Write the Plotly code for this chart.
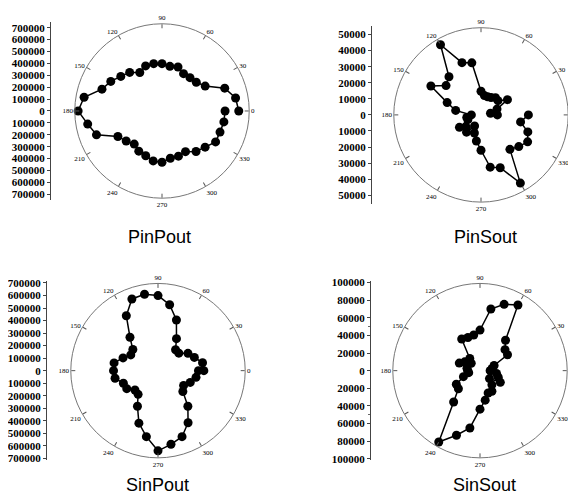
import plotly.graph_objects as go

# The page body has an 8px margin, so the figure is sized to fill the rest of the window
OFF = 8
W, H = 576 - OFF, 504 - OFF

# ---------------- data ----------------
theta_deg = [0, 10, 20, 30, 40, 50, 60, 70, 80, 90, 100, 110, 120, 130, 140, 150, 160, 170,
             180, 190, 200, 210, 220, 230, 240, 250, 260, 270, 280, 290, 300, 310, 320, 330,
             340, 350, 360]

pinpout_r = [645000, 628000, 561000, 419000, 376000, 366000, 362000, 393000, 381000, 398000,
             404000, 403000, 373000, 423000, 452000, 497000, 537000, 665000, 705000, 634000,
             586000, 428000, 393000, 363000, 390000, 400000, 426000, 431000, 403000, 404000,
             395000, 445000, 473000, 520000, 519000, 528000, 530000]

pinsout_r = [10200, 6000, 10600, 19000, 13800, 14000, 12500, 12000, 12200, 14700,
             32900, 34600, 50400, 31000, 28400, 36000, 22400, 16000, 6000, 9000,
             8700, 15500, 12000, 14000, 8000, 12000, 16500, 22000, 33000, 35000,
             49000, 28000, 30700, 33500, 31000, 25000, 29500]

sinpout_r = [366000, 361000, 309000, 276000, 217000, 218000, 295000, 430000, 534000, 599000,
             619000, 609000, 506000, 348000, 262000, 251000, 297000, 356000, 355000, 348000,
             294000, 288000, 240000, 247000, 328000, 446000, 535000, 640000, 597000, 561000,
             480000, 371000, 259000, 236000, 274000, 308000, 323000]

sinsout_r = [12000, 14000, 17000, 36000, 37000, 45000, 86000, 80000, 71000, 46000,
             41000, 40000, 41500, 18000, 13000, 20000, 25000, 15000, 14000, 13000,
             20000, 31000, 32000, 46500, 93500, 78000, 66000, 43700, 34000, 27000,
             27000, 21000, 14000, 26600, 22000, 19000, 11500]

titles = ["PinPout", "PinSout", "SinPout", "SinSout"]

pout_ticks = [700000, 600000, 500000, 400000, 300000, 200000, 100000, 0,
              -100000, -200000, -300000, -400000, -500000, -600000, -700000]
pout_labels = ["700000", "600000", "500000", "400000", "300000", "200000", "100000", "0",
               "100000", "200000", "300000", "400000", "500000", "600000", "700000"]
pinsout_ticks = [50000, 40000, 30000, 20000, 10000, 0, -10000, -20000, -30000, -40000, -50000]
pinsout_labels = ["50000", "40000", "30000", "20000", "10000", "0",
                  "10000", "20000", "30000", "40000", "50000"]
sinsout_ticks = [100000, 80000, 60000, 40000, 20000, 0, -20000, -40000, -60000, -80000, -100000]
sinsout_labels = ["100000", "80000", "60000", "40000", "20000", "0",
                  "20000", "40000", "60000", "80000", "100000"]

ang_ticks = [0, 30, 60, 90, 120, 150, 180, 210, 240, 270, 300, 330]
ang_labels = ["0", "30", "60", "90", "120", "150", "180", "210", "240", "270", "300", "330"]

# ---------------- layout geometry (window pixels) ----------------
panels = [
    dict(cx=162, cy=108, L=85.0, lmax=700000, ax=51, tx=159, ty=237,
         r=pinpout_r, tv=pout_ticks, tt=pout_labels),
    dict(cx=481, cy=112, L=82.0, lmax=50000, ax=372, tx=485, ty=237,
         r=pinsout_r, tv=pinsout_ticks, tt=pinsout_labels),
    dict(cx=158, cy=373, L=89.5, lmax=700000, ax=47, tx=157, ty=490,
         r=sinpout_r, tv=pout_ticks, tt=pout_labels),
    dict(cx=480, cy=373, L=90.0, lmax=100000, ax=371, tx=484, ty=490,
         r=sinsout_r, tv=sinsout_ticks, tt=sinsout_labels),
]
RC = 89  # circle radius in px
YA = 91  # half-length of the vertical scale in px


def px(x):
    return (x - OFF) / W


def py(y):
    return 1 - (y - OFF) / H


fig = go.Figure()
layout = dict(width=W, height=H, margin=dict(l=0, r=0, t=0, b=0),
              paper_bgcolor="white", plot_bgcolor="white", showlegend=False,
              annotations=[])

serif = "Liberation Serif"

for i, p in enumerate(panels):
    k = "" if i == 0 else str(i + 1)
    pol = "polar" + k
    fig.add_trace(go.Scatterpolar(
        r=p["r"], theta=theta_deg, mode="lines+markers", subplot=pol,
        line=dict(color="black", width=1.5),
        marker=dict(color="black", size=9),
        cliponaxis=False, hoverinfo="skip"))
    # empty trace so the vertical scale subplot is drawn
    fig.add_trace(go.Scatter(x=[], y=[], xaxis="x" + k, yaxis="y" + k,
                             mode="markers", hoverinfo="skip"))
    rmax = p["lmax"] * RC / p["L"]
    layout[pol] = dict(
        domain=dict(x=[px(p["cx"] - RC), px(p["cx"] + RC)],
                    y=[py(p["cy"] + RC), py(p["cy"] - RC)]),
        bgcolor="white",
        radialaxis=dict(visible=False, range=[0, rmax]),
        angularaxis=dict(rotation=0, direction="counterclockwise",
                         tickvals=ang_ticks, ticktext=ang_labels,
                         showgrid=False, showline=True, linecolor="#777", linewidth=1,
                         ticks="inside", ticklen=4, tickcolor="#555",
                         tickfont=dict(family=serif, size=7, color="black")))
    yr = p["lmax"] * YA / p["L"]
    layout["xaxis" + k] = dict(domain=[px(p["ax"]), px(p["ax"] + 4)], visible=False,
                               range=[0, 1], anchor="y" + k, fixedrange=True)
    layout["yaxis" + k] = dict(
        domain=[py(p["cy"] + YA), py(p["cy"] - YA)],
        anchor="x" + k, range=[-yr, yr], tickvals=p["tv"], ticktext=p["tt"],
        showline=True, linecolor="#444", linewidth=1, ticks="outside", ticklen=3,
        tickcolor="#444", showgrid=False, zeroline=False, fixedrange=True,
        minor=dict(ticks="outside", ticklen=2, tickcolor="#666", nticks=2),
        tickfont=dict(family=serif, size=11, color="black", weight="bold"))
    layout["annotations"].append(dict(
        text=titles[i], x=px(p["tx"]), y=py(p["ty"]), xref="paper", yref="paper",
        showarrow=False, xanchor="center", yanchor="middle",
        font=dict(family="Liberation Sans", size=18, color="black")))

fig.update_layout(**layout)
fig.write_html("out.html")
